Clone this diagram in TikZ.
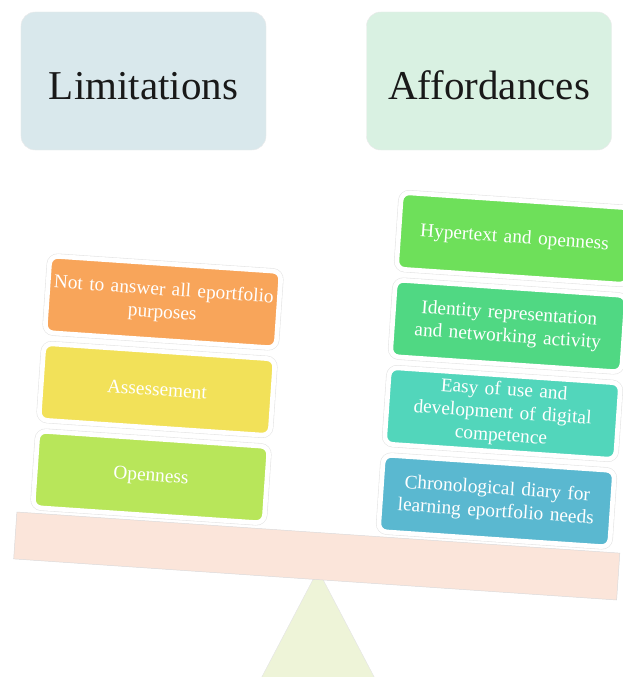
\documentclass[tikz,border=0pt]{standalone}
\usepackage{fontspec}
\setmainfont{Liberation Serif}
\usetikzlibrary{calc}
\definecolor{limbg}{HTML}{D9E8EC}
\definecolor{affbg}{HTML}{D9F1E2}
\definecolor{beambg}{HTML}{FBE5DA}
\definecolor{pivotbg}{HTML}{EEF4D8}
\definecolor{orng}{HTML}{F8A55A}
\definecolor{yllw}{HTML}{F2E159}
\definecolor{lime}{HTML}{B8E65A}
\definecolor{grn}{HTML}{6EE05A}
\definecolor{sea}{HTML}{50D883}
\definecolor{turq}{HTML}{52D6BB}
\definecolor{blu}{HTML}{5AB8D0}

\begin{document}
\begin{tikzpicture}[x=0.03cm, y=-0.03cm,
ttl/.style={draw=black!8, rounded corners=12, minimum width=7.35cm, minimum height=4.14cm, font=\fontsize{35}{40}\selectfont, text=black!90},
blk/.style={rounded corners=7, draw=white, line width=4pt, preaction={draw=black!10, line width=5pt}, text=white, minimum width=6.95cm, minimum height=2.3cm, text width=6.7cm, align=center, inner sep=0pt, rotate=-3.9, font=\fontsize{16.5}{19.5}\selectfont}]
\useasboundingbox (0,0) rectangle (623,677);
\clip (0,0) rectangle (623,677);
%titles
\node[ttl, fill=limbg] (lim) at (143.5,81) {\raisebox{-16pt}[0pt][0pt]{Limitations}};
\node[ttl, fill=affbg] (aff) at (489,81) {\raisebox{-16pt}[0pt][0pt]{Affordances}};
%scale
\fill[pivotbg, draw=black!10] (318,570) -- (255,690) -- (381,690) -- cycle;
\node[fill=beambg, draw=black!15, minimum width=18.13cm, minimum height=1.41cm, inner sep=0pt, rotate=-3.9] (beam) at (316.75,556) {};
%left pan
\foreach \i/\c/\t in {0/lime/{Openness}, 1/yllw/{Assessement}, 2/orng/{Not to answer all eportfolio\\purposes}}{\node[blk, fill=\c] (l\i) at ({151+6*\i},{477-87.5*\i}) {\t};}
%right pan
\foreach \i/\c/\t in {0/blu/{Chronological diary for\\learning eportfolio needs}, 1/turq/{Easy of use and\\development of digital\\competence}, 2/sea/{Identity representation\\and networking activity}, 3/grn/{Hypertext and openness}}{\node[blk, fill=\c] (r\i) at ({496.5+6*\i},{501-87.5*\i}) {\t};}
\end{tikzpicture}
\end{document}
